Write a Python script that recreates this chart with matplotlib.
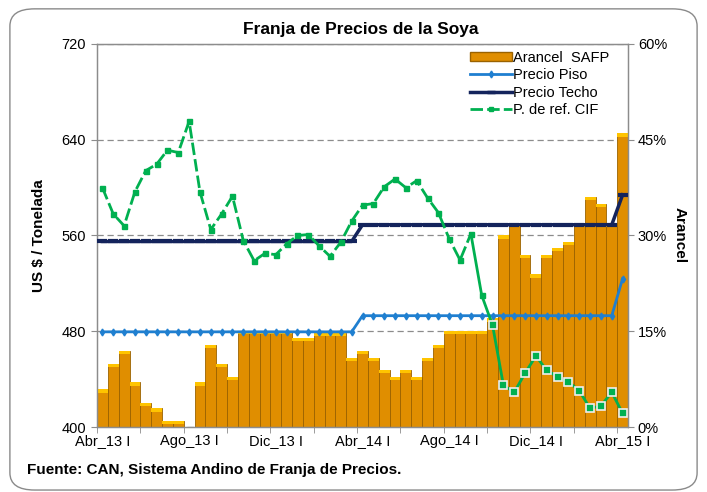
import matplotlib.pyplot as plt
import numpy as np
from matplotlib.patches import FancyBboxPatch, Patch
from matplotlib.lines import Line2D

plt.rcParams.update(
    {
        "font.family": ["Liberation Sans Narrow", "Liberation Sans", "DejaVu Sans"],
        "font.size": 10.5,
    }
)

# semi-monthly periods, Abr_13 I .. Abr_15 I
tick_labels = ["Abr_13 I", "Ago_13 I", "Dic_13 I", "Abr_14 I", "Ago_14 I", "Dic_14 I", "Abr_15 I"]
tick_idx = [0, 8, 16, 24, 32, 40, 48]

# Arancel SAFP (%), right axis
arancel = [5.9, 9.9, 11.9, 7.0, 3.8, 2.9, 0.9, 0.9, 0.0, 7.0, 12.9, 9.9,
           7.9, 15.0, 15.0, 15.0, 15.0, 15.0, 14.0, 14.0, 14.8, 14.8, 14.8, 10.8,
           11.9, 10.8, 8.9, 7.9, 8.9, 7.9, 10.8, 12.9, 15.0, 15.0, 15.0, 15.0,
           17.0, 30.0, 31.9, 26.9, 23.9, 26.9, 28.0, 29.0, 31.9, 36.0, 34.9, 31.9,
           46.0]

# US$ / t, left axis
piso = [479.5, 479.5, 479.5, 479.5, 479.5, 479.5, 479.5, 479.5, 479.5, 479.5, 479.5, 479.5,
        479.5, 479.5, 479.5, 479.5, 479.5, 479.5, 479.5, 479.5, 479.5, 479.5, 479.5, 479.5,
        493.0, 493.0, 493.0, 493.0, 493.0, 493.0, 493.0, 493.0, 493.0, 493.0, 493.0, 493.0,
        493.0, 493.0, 493.0, 493.0, 493.0, 493.0, 493.0, 493.0, 493.0, 493.0, 493.0, 493.0,
        524.0]
techo = [555.0, 555.0, 555.0, 555.0, 555.0, 555.0, 555.0, 555.0, 555.0, 555.0, 555.0, 555.0,
         555.0, 555.0, 555.0, 555.0, 555.0, 555.0, 555.0, 555.0, 555.0, 555.0, 555.0, 555.0,
         569.0, 569.0, 569.0, 569.0, 569.0, 569.0, 569.0, 569.0, 569.0, 569.0, 569.0, 569.0,
         569.0, 569.0, 569.0, 569.0, 569.0, 569.0, 569.0, 569.0, 569.0, 569.0, 569.0, 569.0,
         594.0]
cif = [599.9, 578.0, 568.1, 596.5, 614.2, 619.5, 631.3, 629.3, 655.4, 596.5, 565.0, 578.0,
       592.8, 555.8, 538.9, 545.1, 544.0, 553.0, 560.0, 560.8, 551.3, 542.6, 554.4, 572.0,
       585.3, 586.7, 600.7, 607.2, 599.9, 605.8, 591.4, 579.1, 557.2, 539.5, 561.4, 510.0,
       485.0, 435.0, 429.0, 445.0, 459.4, 447.3, 442.0, 437.7, 430.4, 415.5, 417.7, 429.0,
       411.5]

x = np.arange(len(arancel))
GREEN = "#00B050"
LBLUE = "#1F7FD0"
NAVY = "#14245C"
BAR = "#E08E00"

fig = plt.figure(figsize=(7.07, 4.92), dpi=100)
fig.patches.append(
    FancyBboxPatch((0.014, 0.004), 0.972, 0.978, boxstyle="round,pad=0,rounding_size=0.035",
                   transform=fig.transFigure, fc="white", ec="#8a8a8a", lw=1.0, zorder=-10)
)

ax2 = fig.add_axes([0.1372, 0.1321, 0.7511, 0.7785])
ax = ax2.twinx()
ax.yaxis.tick_left()
ax.yaxis.set_label_position("left")
ax2.yaxis.tick_right()
ax2.yaxis.set_label_position("right")

# bars on the percentage axis (drawn underneath)
ax2.bar(x, arancel, width=1.0, color=BAR, edgecolor="#9A6200", linewidth=0.6, zorder=2)
ax2.bar(x, [min(a, 0.5) for a in arancel], bottom=[a - min(a, 0.5) for a in arancel],
        width=1.0, color="#FFC400", linewidth=0, zorder=3)
ax2.set_ylim(0, 60)
ax2.set_yticks([0, 15, 30, 45, 60])
ax2.set_yticklabels(["0%", "15%", "30%", "45%", "60%"])
ax2.yaxis.grid(True, linestyle=(0, (5, 3)), color="#8c8c8c", lw=0.9)
ax2.set_axisbelow(True)
ax2.set_ylabel("Arancel", fontweight="bold", fontsize=11, rotation=270, labelpad=14)

# price lines
ax.plot(x, piso, color=LBLUE, lw=2, marker="d", ms=3.5, zorder=5)
ax.plot(x, techo, color=NAVY, lw=2.5, marker="_", ms=7, mew=3, zorder=5)
ax.plot(x[:35], cif[:35], color=GREEN, lw=2, linestyle=(0, (4.5, 1.5)), zorder=6)
ax.plot(x[34:], cif[34:], color=GREEN, lw=2, zorder=6)
ax.plot(x[:36], cif[:36], linestyle="none", marker="s", ms=3.6, color=GREEN, mec=GREEN, zorder=7)
ax.plot(x[36:], cif[36:], linestyle="none", marker="s", ms=5.5, color=GREEN, mec="#EEEEEE",
        mew=1.2, zorder=7)
ax.set_ylim(400, 720)
ax.set_yticks([400, 480, 560, 640, 720])
ax.set_ylabel("US $ / Tonelada", fontweight="bold", fontsize=11, labelpad=11)

ax2.set_xlim(-0.5, len(x) - 0.5)
ax2.set_xticks(tick_idx)
ax2.set_xticklabels(tick_labels)
ax2.set_xticks(np.arange(-0.5, len(x), 4), minor=True)
ax2.tick_params(axis="x", which="major", length=0, pad=5)
ax2.tick_params(axis="x", which="minor", length=4, color="#8c8c8c")
ax2.tick_params(axis="y", length=4, color="#8c8c8c", pad=3)
ax.tick_params(axis="y", length=4, color="#8c8c8c", pad=4)

for a in (ax, ax2):
    for s in a.spines.values():
        s.set_color("#8c8c8c")
        s.set_linewidth(0.9)

handles = [
    Patch(facecolor=BAR, edgecolor="#9A6200"),
    Line2D([], [], color=LBLUE, lw=2, marker="d", ms=3.5),
    Line2D([], [], color=NAVY, lw=2.5, marker="_", ms=6, mew=2.5),
    Line2D([], [], color=GREEN, lw=2, linestyle=(0, (4.5, 1.5)), marker="s", ms=3.5),
]
ax.legend(handles, ["Arancel  SAFP", "Precio Piso", "Precio Techo", "P. de ref. CIF"],
          loc="upper left", bbox_to_anchor=(0.685, 1.005), frameon=False, handlelength=2.9,
          handleheight=0.6, handletextpad=0.1, labelspacing=0.24, borderaxespad=0.2,
          fontsize=10.5)

fig.text(0.51, 0.925, "Franja de Precios de la Soya", ha="center", va="bottom",
         fontsize=12.5, fontweight="bold")
fig.text(0.038, 0.045, "Fuente: CAN, Sistema Andino de Franja de Precios.", ha="left",
         va="center", fontsize=11, fontweight="bold")

fig.savefig("out.png", dpi=100)
